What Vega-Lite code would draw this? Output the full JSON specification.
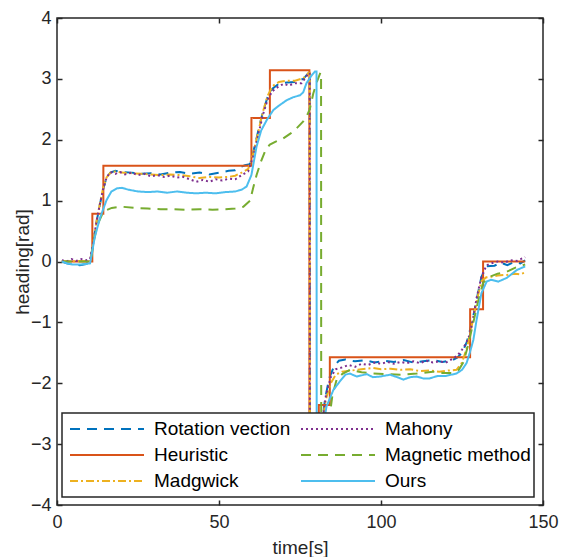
{
  "$schema": "https://vega.github.io/schema/vega-lite/v6.json",
  "width": 486,
  "height": 487,
  "autosize": {"type": "none"},
  "padding": {"left": 57, "top": 18, "right": 19, "bottom": 52},
  "background": "white",
  "config": {
    "view": {"stroke": "#262626", "strokeWidth": 1.5},
    "axis": {
      "domain": false, "grid": false,
      "tickSize": -5, "tickColor": "#262626", "tickWidth": 1.5,
      "labelFont": "Liberation Sans", "labelFontSize": 18, "labelColor": "#262626",
      "labelFlush": false, "labelOverlap": false,
      "titleFont": "Liberation Sans", "titleFontSize": 19, "titleFontWeight": "normal", "titleColor": "#262626"
    },
    "legend": {
      "orient": "none", "legendX": 5, "legendY": 395,
      "columns": 2, "symbolType": "stroke", "symbolSize": 5476, "symbolStrokeWidth": 2,
      "labelFont": "Liberation Sans", "labelFontSize": 19, "labelColor": "#000000",
      "fillColor": "white", "strokeColor": "#262626", "strokeWidth": 1.5,
      "padding": 3, "clipHeight": 26, "rowPadding": 0, "columnPadding": 5,
      "symbolOffset": 4, "labelOffset": 9, "labelLimit": 300
    }
  },
  "data": {"values": [
    {"series":"Rotation vection","t":1.5,"v":0},{"series":"Rotation vection","t":3,"v":-0.03},{"series":"Rotation vection","t":5,"v":-0.05},{"series":"Rotation vection","t":7,"v":-0.06},{"series":"Rotation vection","t":9,"v":-0.04},{"series":"Rotation vection","t":10.2,"v":0},{"series":"Rotation vection","t":11.2,"v":0.3},{"series":"Rotation vection","t":12.2,"v":0.65},{"series":"Rotation vection","t":13.3,"v":0.95},{"series":"Rotation vection","t":14.2,"v":1.18},{"series":"Rotation vection","t":15.3,"v":1.38},{"series":"Rotation vection","t":16.5,"v":1.46},{"series":"Rotation vection","t":18,"v":1.49},{"series":"Rotation vection","t":20,"v":1.47},{"series":"Rotation vection","t":23,"v":1.46},{"series":"Rotation vection","t":26,"v":1.44},{"series":"Rotation vection","t":29,"v":1.45},{"series":"Rotation vection","t":32,"v":1.43},{"series":"Rotation vection","t":35,"v":1.46},{"series":"Rotation vection","t":38,"v":1.47},{"series":"Rotation vection","t":41,"v":1.44},{"series":"Rotation vection","t":44,"v":1.46},{"series":"Rotation vection","t":47,"v":1.43},{"series":"Rotation vection","t":50,"v":1.46},{"series":"Rotation vection","t":53,"v":1.49},{"series":"Rotation vection","t":55,"v":1.5},{"series":"Rotation vection","t":56.5,"v":1.55},{"series":"Rotation vection","t":58,"v":1.58},{"series":"Rotation vection","t":59.5,"v":1.6},{"series":"Rotation vection","t":60.5,"v":1.78},{"series":"Rotation vection","t":62,"v":2.12},{"series":"Rotation vection","t":63.5,"v":2.45},{"series":"Rotation vection","t":65,"v":2.7},{"series":"Rotation vection","t":66.5,"v":2.84},{"series":"Rotation vection","t":68.5,"v":2.92},{"series":"Rotation vection","t":71,"v":2.94},{"series":"Rotation vection","t":73.5,"v":2.95},{"series":"Rotation vection","t":76,"v":3.0},{"series":"Rotation vection","t":77.7,"v":3.1},{"series":"Rotation vection","t":78,"v":3.1},{"series":"Rotation vection","t":78.05,"v":-3.14},{"series":"Rotation vection","t":81,"v":-3.14},{"series":"Rotation vection","t":82,"v":-2.6},{"series":"Rotation vection","t":82.7,"v":-2.27},{"series":"Rotation vection","t":84,"v":-1.92},{"series":"Rotation vection","t":85.5,"v":-1.72},{"series":"Rotation vection","t":87,"v":-1.63},{"series":"Rotation vection","t":89,"v":-1.61},{"series":"Rotation vection","t":92,"v":-1.64},{"series":"Rotation vection","t":95,"v":-1.62},{"series":"Rotation vection","t":98,"v":-1.66},{"series":"Rotation vection","t":101,"v":-1.63},{"series":"Rotation vection","t":104,"v":-1.65},{"series":"Rotation vection","t":107,"v":-1.62},{"series":"Rotation vection","t":110,"v":-1.66},{"series":"Rotation vection","t":113,"v":-1.64},{"series":"Rotation vection","t":116,"v":-1.62},{"series":"Rotation vection","t":119,"v":-1.65},{"series":"Rotation vection","t":122,"v":-1.62},{"series":"Rotation vection","t":123.5,"v":-1.58},{"series":"Rotation vection","t":125,"v":-1.5},{"series":"Rotation vection","t":126.5,"v":-1.32},{"series":"Rotation vection","t":128,"v":-1.02},{"series":"Rotation vection","t":129.5,"v":-0.63},{"series":"Rotation vection","t":131,"v":-0.25},{"series":"Rotation vection","t":132.6,"v":-0.08},{"series":"Rotation vection","t":135,"v":-0.07},{"series":"Rotation vection","t":137,"v":-0.02},{"series":"Rotation vection","t":139,"v":-0.06},{"series":"Rotation vection","t":141,"v":-0.01},{"series":"Rotation vection","t":143,"v":-0.03},{"series":"Rotation vection","t":144.5,"v":0.02},

    {"series":"Heuristic","t":1.5,"v":0},{"series":"Heuristic","t":10.9,"v":0},{"series":"Heuristic","t":10.91,"v":0.785},{"series":"Heuristic","t":14.3,"v":0.785},{"series":"Heuristic","t":14.31,"v":1.571},{"series":"Heuristic","t":60,"v":1.571},{"series":"Heuristic","t":60.01,"v":2.356},{"series":"Heuristic","t":65.7,"v":2.356},{"series":"Heuristic","t":65.71,"v":3.142},{"series":"Heuristic","t":77.9,"v":3.142},{"series":"Heuristic","t":77.91,"v":-3.142},{"series":"Heuristic","t":80.8,"v":-3.142},{"series":"Heuristic","t":80.81,"v":-2.356},{"series":"Heuristic","t":84.2,"v":-2.356},{"series":"Heuristic","t":84.21,"v":-1.571},{"series":"Heuristic","t":127.5,"v":-1.571},{"series":"Heuristic","t":127.51,"v":-0.785},{"series":"Heuristic","t":131.5,"v":-0.785},{"series":"Heuristic","t":131.51,"v":0},{"series":"Heuristic","t":144.5,"v":0},

    {"series":"Madgwick","t":1.5,"v":0.01},{"series":"Madgwick","t":4,"v":0.0},{"series":"Madgwick","t":7,"v":0.01},{"series":"Madgwick","t":10.2,"v":0.01},{"series":"Madgwick","t":11.2,"v":0.3},{"series":"Madgwick","t":12.2,"v":0.66},{"series":"Madgwick","t":13.3,"v":0.96},{"series":"Madgwick","t":14.2,"v":1.2},{"series":"Madgwick","t":15.3,"v":1.38},{"series":"Madgwick","t":16.5,"v":1.46},{"series":"Madgwick","t":18,"v":1.48},{"series":"Madgwick","t":20,"v":1.46},{"series":"Madgwick","t":23,"v":1.45},{"series":"Madgwick","t":26,"v":1.44},{"series":"Madgwick","t":29,"v":1.43},{"series":"Madgwick","t":32,"v":1.42},{"series":"Madgwick","t":35,"v":1.43},{"series":"Madgwick","t":38,"v":1.42},{"series":"Madgwick","t":41,"v":1.4},{"series":"Madgwick","t":44,"v":1.37},{"series":"Madgwick","t":47,"v":1.39},{"series":"Madgwick","t":50,"v":1.38},{"series":"Madgwick","t":53,"v":1.39},{"series":"Madgwick","t":55,"v":1.41},{"series":"Madgwick","t":57,"v":1.46},{"series":"Madgwick","t":59,"v":1.52},{"series":"Madgwick","t":60.5,"v":1.76},{"series":"Madgwick","t":62,"v":2.1},{"series":"Madgwick","t":63.5,"v":2.45},{"series":"Madgwick","t":65,"v":2.72},{"series":"Madgwick","t":66.5,"v":2.88},{"series":"Madgwick","t":68.5,"v":2.95},{"series":"Madgwick","t":71,"v":2.97},{"series":"Madgwick","t":73.5,"v":2.97},{"series":"Madgwick","t":76,"v":3.01},{"series":"Madgwick","t":77.7,"v":3.1},{"series":"Madgwick","t":78,"v":3.1},{"series":"Madgwick","t":78.05,"v":-3.14},{"series":"Madgwick","t":81,"v":-3.14},{"series":"Madgwick","t":82,"v":-2.6},{"series":"Madgwick","t":83,"v":-2.26},{"series":"Madgwick","t":84.5,"v":-2.0},{"series":"Madgwick","t":86,"v":-1.86},{"series":"Madgwick","t":88,"v":-1.81},{"series":"Madgwick","t":91,"v":-1.79},{"series":"Madgwick","t":94,"v":-1.77},{"series":"Madgwick","t":97.5,"v":-1.75},{"series":"Madgwick","t":100,"v":-1.77},{"series":"Madgwick","t":103,"v":-1.76},{"series":"Madgwick","t":106,"v":-1.78},{"series":"Madgwick","t":109,"v":-1.77},{"series":"Madgwick","t":112,"v":-1.8},{"series":"Madgwick","t":115,"v":-1.79},{"series":"Madgwick","t":118,"v":-1.81},{"series":"Madgwick","t":121,"v":-1.79},{"series":"Madgwick","t":123.3,"v":-1.78},{"series":"Madgwick","t":125,"v":-1.66},{"series":"Madgwick","t":126.5,"v":-1.42},{"series":"Madgwick","t":128,"v":-1.06},{"series":"Madgwick","t":129.5,"v":-0.66},{"series":"Madgwick","t":131,"v":-0.32},{"series":"Madgwick","t":132.5,"v":-0.26},{"series":"Madgwick","t":134,"v":-0.25},{"series":"Madgwick","t":136,"v":-0.23},{"series":"Madgwick","t":138.8,"v":-0.22},{"series":"Madgwick","t":141.5,"v":-0.2},{"series":"Madgwick","t":143,"v":-0.21},{"series":"Madgwick","t":144.5,"v":-0.18},

    {"series":"Mahony","t":1.5,"v":0.02},{"series":"Mahony","t":3,"v":0.0},{"series":"Mahony","t":4.5,"v":0.04},{"series":"Mahony","t":6,"v":0.01},{"series":"Mahony","t":7.5,"v":0.04},{"series":"Mahony","t":9,"v":0.02},{"series":"Mahony","t":10.2,"v":0.04},{"series":"Mahony","t":11.2,"v":0.3},{"series":"Mahony","t":12.2,"v":0.66},{"series":"Mahony","t":13.3,"v":0.96},{"series":"Mahony","t":14.2,"v":1.18},{"series":"Mahony","t":15.3,"v":1.38},{"series":"Mahony","t":16.5,"v":1.47},{"series":"Mahony","t":18,"v":1.44},{"series":"Mahony","t":19.5,"v":1.47},{"series":"Mahony","t":21,"v":1.43},{"series":"Mahony","t":23,"v":1.46},{"series":"Mahony","t":25,"v":1.42},{"series":"Mahony","t":27,"v":1.44},{"series":"Mahony","t":29,"v":1.4},{"series":"Mahony","t":31,"v":1.42},{"series":"Mahony","t":33,"v":1.39},{"series":"Mahony","t":35,"v":1.41},{"series":"Mahony","t":37,"v":1.38},{"series":"Mahony","t":39,"v":1.39},{"series":"Mahony","t":41,"v":1.35},{"series":"Mahony","t":43,"v":1.31},{"series":"Mahony","t":45,"v":1.34},{"series":"Mahony","t":47,"v":1.31},{"series":"Mahony","t":49,"v":1.35},{"series":"Mahony","t":51,"v":1.33},{"series":"Mahony","t":53,"v":1.36},{"series":"Mahony","t":55,"v":1.35},{"series":"Mahony","t":57,"v":1.42},{"series":"Mahony","t":59,"v":1.48},{"series":"Mahony","t":60.5,"v":1.72},{"series":"Mahony","t":62,"v":2.05},{"series":"Mahony","t":63.5,"v":2.4},{"series":"Mahony","t":65,"v":2.66},{"series":"Mahony","t":66.5,"v":2.8},{"series":"Mahony","t":68.5,"v":2.88},{"series":"Mahony","t":70,"v":2.92},{"series":"Mahony","t":71.5,"v":2.89},{"series":"Mahony","t":73.5,"v":2.93},{"series":"Mahony","t":75.5,"v":2.93},{"series":"Mahony","t":77.5,"v":3.08},{"series":"Mahony","t":78,"v":3.1},{"series":"Mahony","t":78.05,"v":-3.14},{"series":"Mahony","t":81,"v":-3.14},{"series":"Mahony","t":82,"v":-2.6},{"series":"Mahony","t":83,"v":-2.2},{"series":"Mahony","t":84.5,"v":-1.9},{"series":"Mahony","t":86,"v":-1.77},{"series":"Mahony","t":88,"v":-1.74},{"series":"Mahony","t":90,"v":-1.7},{"series":"Mahony","t":92,"v":-1.73},{"series":"Mahony","t":94,"v":-1.68},{"series":"Mahony","t":96,"v":-1.7},{"series":"Mahony","t":98,"v":-1.66},{"series":"Mahony","t":100,"v":-1.68},{"series":"Mahony","t":102,"v":-1.65},{"series":"Mahony","t":104,"v":-1.68},{"series":"Mahony","t":106,"v":-1.65},{"series":"Mahony","t":108,"v":-1.67},{"series":"Mahony","t":110,"v":-1.64},{"series":"Mahony","t":112,"v":-1.67},{"series":"Mahony","t":114,"v":-1.63},{"series":"Mahony","t":116,"v":-1.66},{"series":"Mahony","t":118,"v":-1.64},{"series":"Mahony","t":120,"v":-1.66},{"series":"Mahony","t":122,"v":-1.6},{"series":"Mahony","t":123.5,"v":-1.55},{"series":"Mahony","t":125,"v":-1.45},{"series":"Mahony","t":126.2,"v":-1.35},{"series":"Mahony","t":127.4,"v":-1.2},{"series":"Mahony","t":128.5,"v":-0.92},{"series":"Mahony","t":129.5,"v":-0.6},{"series":"Mahony","t":131,"v":-0.25},{"series":"Mahony","t":132.6,"v":-0.06},{"series":"Mahony","t":134,"v":-0.03},{"series":"Mahony","t":136,"v":0.0},{"series":"Mahony","t":138,"v":-0.02},{"series":"Mahony","t":140,"v":0.02},{"series":"Mahony","t":142,"v":0.01},{"series":"Mahony","t":143.5,"v":0.05},{"series":"Mahony","t":144.5,"v":0.07},

    {"series":"Magnetic method","t":1.5,"v":0},{"series":"Magnetic method","t":5,"v":0},{"series":"Magnetic method","t":10.5,"v":0},{"series":"Magnetic method","t":11.2,"v":0.3},{"series":"Magnetic method","t":12.5,"v":0.6},{"series":"Magnetic method","t":14.3,"v":0.82},{"series":"Magnetic method","t":16.9,"v":0.88},{"series":"Magnetic method","t":20,"v":0.9},{"series":"Magnetic method","t":24,"v":0.88},{"series":"Magnetic method","t":28,"v":0.87},{"series":"Magnetic method","t":32,"v":0.86},{"series":"Magnetic method","t":36,"v":0.86},{"series":"Magnetic method","t":40,"v":0.85},{"series":"Magnetic method","t":44,"v":0.86},{"series":"Magnetic method","t":48,"v":0.85},{"series":"Magnetic method","t":52,"v":0.86},{"series":"Magnetic method","t":55,"v":0.87},{"series":"Magnetic method","t":57.5,"v":0.9},{"series":"Magnetic method","t":59.6,"v":1.0},{"series":"Magnetic method","t":60.5,"v":1.2},{"series":"Magnetic method","t":61.6,"v":1.42},{"series":"Magnetic method","t":63,"v":1.65},{"series":"Magnetic method","t":64.5,"v":1.85},{"series":"Magnetic method","t":65.7,"v":1.92},{"series":"Magnetic method","t":67.5,"v":1.97},{"series":"Magnetic method","t":69.8,"v":2.02},{"series":"Magnetic method","t":72,"v":2.1},{"series":"Magnetic method","t":74,"v":2.19},{"series":"Magnetic method","t":76,"v":2.3},{"series":"Magnetic method","t":77,"v":2.38},{"series":"Magnetic method","t":78,"v":2.5},{"series":"Magnetic method","t":79.1,"v":2.76},{"series":"Magnetic method","t":80.2,"v":2.95},{"series":"Magnetic method","t":81.3,"v":3.1},{"series":"Magnetic method","t":81.5,"v":3.1},{"series":"Magnetic method","t":81.55,"v":-3.14},{"series":"Magnetic method","t":83,"v":-3.14},{"series":"Magnetic method","t":84,"v":-2.6},{"series":"Magnetic method","t":85,"v":-2.2},{"series":"Magnetic method","t":86.3,"v":-1.94},{"series":"Magnetic method","t":88,"v":-1.85},{"series":"Magnetic method","t":90.4,"v":-1.78},{"series":"Magnetic method","t":94,"v":-1.82},{"series":"Magnetic method","t":97.5,"v":-1.84},{"series":"Magnetic method","t":102,"v":-1.85},{"series":"Magnetic method","t":106.7,"v":-1.86},{"series":"Magnetic method","t":111,"v":-1.84},{"series":"Magnetic method","t":116,"v":-1.81},{"series":"Magnetic method","t":119,"v":-1.83},{"series":"Magnetic method","t":122,"v":-1.83},{"series":"Magnetic method","t":124,"v":-1.78},{"series":"Magnetic method","t":125.5,"v":-1.65},{"series":"Magnetic method","t":127,"v":-1.35},{"series":"Magnetic method","t":128.5,"v":-1.0},{"series":"Magnetic method","t":130,"v":-0.65},{"series":"Magnetic method","t":131.5,"v":-0.35},{"series":"Magnetic method","t":133.6,"v":-0.25},{"series":"Magnetic method","t":136,"v":-0.2},{"series":"Magnetic method","t":138.8,"v":-0.17},{"series":"Magnetic method","t":141.5,"v":-0.1},{"series":"Magnetic method","t":144.5,"v":-0.05},

    {"series":"Ours","t":1.5,"v":0},{"series":"Ours","t":3,"v":-0.03},{"series":"Ours","t":5,"v":-0.05},{"series":"Ours","t":7,"v":-0.05},{"series":"Ours","t":9,"v":-0.04},{"series":"Ours","t":10.2,"v":-0.03},{"series":"Ours","t":11.7,"v":0.41},{"series":"Ours","t":13.3,"v":0.72},{"series":"Ours","t":15.3,"v":1.01},{"series":"Ours","t":16.8,"v":1.15},{"series":"Ours","t":18.4,"v":1.2},{"series":"Ours","t":20,"v":1.21},{"series":"Ours","t":22,"v":1.18},{"series":"Ours","t":25,"v":1.15},{"series":"Ours","t":28,"v":1.14},{"series":"Ours","t":31,"v":1.15},{"series":"Ours","t":34,"v":1.13},{"series":"Ours","t":37,"v":1.15},{"series":"Ours","t":40,"v":1.13},{"series":"Ours","t":43,"v":1.12},{"series":"Ours","t":46,"v":1.13},{"series":"Ours","t":49,"v":1.12},{"series":"Ours","t":52,"v":1.14},{"series":"Ours","t":55,"v":1.15},{"series":"Ours","t":57,"v":1.18},{"series":"Ours","t":58.5,"v":1.23},{"series":"Ours","t":60,"v":1.42},{"series":"Ours","t":61.6,"v":1.89},{"series":"Ours","t":63,"v":2.15},{"series":"Ours","t":64.7,"v":2.32},{"series":"Ours","t":66.8,"v":2.49},{"series":"Ours","t":68.5,"v":2.56},{"series":"Ours","t":70.9,"v":2.65},{"series":"Ours","t":73,"v":2.7},{"series":"Ours","t":75,"v":2.73},{"series":"Ours","t":76,"v":2.78},{"series":"Ours","t":77,"v":2.93},{"series":"Ours","t":78.5,"v":3.05},{"series":"Ours","t":79.6,"v":3.12},{"series":"Ours","t":80.1,"v":3.12},{"series":"Ours","t":80.15,"v":-3.14},{"series":"Ours","t":82,"v":-3.14},{"series":"Ours","t":82.5,"v":-2.6},{"series":"Ours","t":83.2,"v":-2.38},{"series":"Ours","t":85.3,"v":-2.11},{"series":"Ours","t":87.3,"v":-1.97},{"series":"Ours","t":89,"v":-1.86},{"series":"Ours","t":90.4,"v":-1.84},{"series":"Ours","t":92.5,"v":-1.89},{"series":"Ours","t":95.6,"v":-1.85},{"series":"Ours","t":97.5,"v":-1.9},{"series":"Ours","t":99.7,"v":-1.89},{"series":"Ours","t":102.8,"v":-1.86},{"series":"Ours","t":105,"v":-1.9},{"series":"Ours","t":106.9,"v":-1.94},{"series":"Ours","t":109,"v":-1.9},{"series":"Ours","t":111,"v":-1.89},{"series":"Ours","t":113,"v":-1.92},{"series":"Ours","t":115,"v":-1.92},{"series":"Ours","t":117.5,"v":-1.88},{"series":"Ours","t":120,"v":-1.88},{"series":"Ours","t":123.3,"v":-1.84},{"series":"Ours","t":125,"v":-1.78},{"series":"Ours","t":126.4,"v":-1.67},{"series":"Ours","t":127.4,"v":-1.5},{"series":"Ours","t":128.5,"v":-1.29},{"series":"Ours","t":129.5,"v":-0.96},{"series":"Ours","t":131,"v":-0.52},{"series":"Ours","t":132.6,"v":-0.33},{"series":"Ours","t":134,"v":-0.3},{"series":"Ours","t":136.2,"v":-0.33},{"series":"Ours","t":138.8,"v":-0.27},{"series":"Ours","t":141.9,"v":-0.14},{"series":"Ours","t":144.5,"v":-0.08}
  ]},
  "layer": [
    {
      "mark": {"type": "line", "strokeWidth": 2, "clip": true},
      "encoding": {
        "x": {"field": "t", "type": "quantitative",
              "scale": {"domain": [0, 150], "nice": false, "zero": false},
              "axis": {"orient": "bottom", "values": [0, 50, 100, 150], "title": "time[s]", "labelPadding": 13, "titleY": 48, "titleBaseline": "alphabetic"}},
        "y": {"field": "v", "type": "quantitative",
              "scale": {"domain": [-4, 4], "nice": false, "zero": false},
              "axis": {"orient": "left", "values": [-4, -3, -2, -1, 0, 1, 2, 3, 4], "title": "heading[rad]", "labelPadding": 11, "titleX": -29, "titleBaseline": "alphabetic"}},
        "color": {"field": "series", "type": "nominal",
                  "scale": {"domain": ["Rotation vection", "Heuristic", "Madgwick", "Mahony", "Magnetic method", "Ours"],
                            "range": ["#0072BD", "#D95319", "#EDB120", "#7E2F8E", "#77AC30", "#4DBEEE"]},
                  "legend": {"title": null}},
        "strokeDash": {"field": "series", "type": "nominal",
                  "scale": {"domain": ["Rotation vection", "Heuristic", "Madgwick", "Mahony", "Magnetic method", "Ours"],
                            "range": [[10, 7], [1, 0], [8, 3, 2, 3], [2, 3], [10, 7], [1, 0]]},
                  "legend": {"title": null}}
      }
    },
    {
      "mark": {"type": "point", "opacity": 0},
      "encoding": {
        "x": {"field": "t", "type": "quantitative",
              "axis": {"orient": "top", "values": [0, 50, 100, 150], "labels": false, "title": null}},
        "y": {"field": "v", "type": "quantitative",
              "axis": {"orient": "right", "values": [-4, -3, -2, -1, 0, 1, 2, 3, 4], "labels": false, "title": null}}
      }
    }
  ],
  "resolve": {"axis": {"x": "independent", "y": "independent"}}
}
